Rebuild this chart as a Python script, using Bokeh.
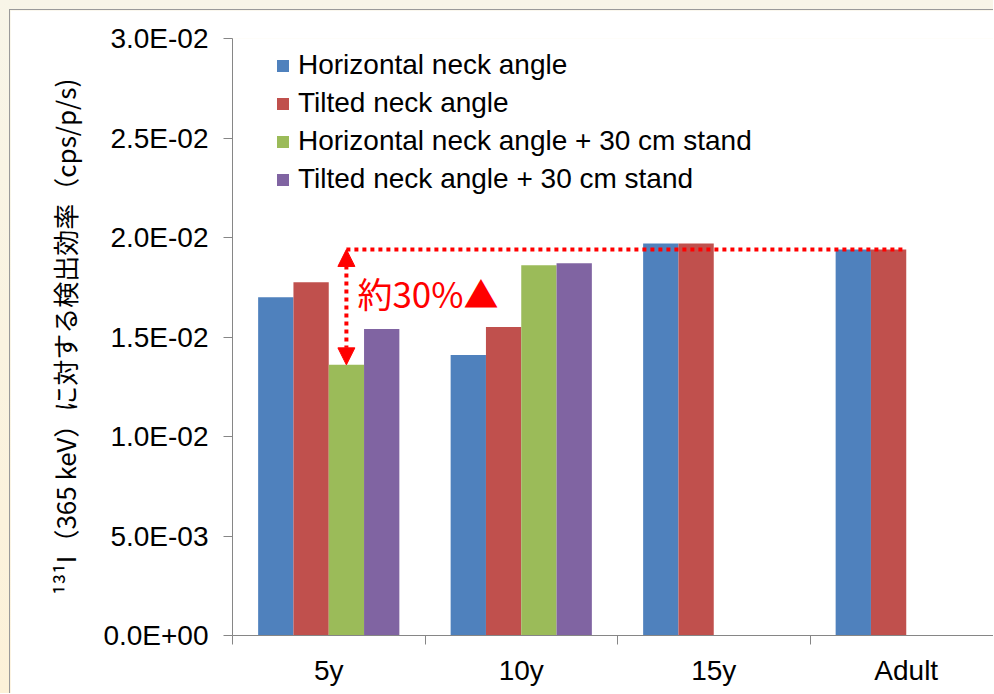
from bokeh.plotting import figure
from bokeh.models import (Range1d, FixedTicker, CustomJSTickFormatter, Legend,
                          LegendItem, Label, Arrow, NormalHead, Title)
from bokeh.layouts import column
from bokeh.embed import file_html
from bokeh.resources import INLINE

# ---- data -------------------------------------------------------------
CATEGORIES = ["5y", "10y", "15y", "Adult"]
SERIES = [
    "Horizontal neck angle",
    "Tilted neck angle",
    "Horizontal neck angle + 30 cm stand",
    "Tilted neck angle + 30 cm stand",
]
HORIZONTAL = [0.0170, 0.0141, 0.0197, 0.0194]
TILTED = [0.01775, 0.0155, 0.0197, 0.0194]
HORIZONTAL_STAND = [0.0136, 0.0186, None, None]
TILTED_STAND = [0.0154, 0.0187, None, None]
VALUES = [HORIZONTAL, TILTED, HORIZONTAL_STAND, TILTED_STAND]
COLORS = ["#4F81BD", "#C0504D", "#9BBB59", "#8064A2"]
Y_TICKS = [0.0, 0.005, 0.01, 0.015, 0.02, 0.025, 0.03]
Y_LABEL = "¹³¹I（365 keV）に対する検出効率（cps/p/s)"
NOTE = "約30%▲"

# ---- styling ----------------------------------------------------------
AXIS_GRAY = "#868686"
LATIN = "Liberation Sans"
CJK = "Noto Sans CJK JP"
BAR_W = 0.1834                       # in category units
OFFSETS = [(i - 1.5) * BAR_W for i in range(4)]

p = figure(
    width=984, height=684,
    x_range=Range1d(0, 762 / 192.5), y_range=Range1d(0, 0.03),
    output_backend="svg", toolbar_location=None,
    min_border_left=222, min_border_top=28, min_border_bottom=59,
    min_border_right=0,
)
p.outline_line_color = None
p.xgrid.visible = False
p.ygrid.visible = False
p.background_fill_color = "white"
p.border_fill_color = "white"

# ---- bars -------------------------------------------------------------
items = []
for name, vals, color, off in zip(SERIES, VALUES, COLORS, OFFSETS):
    xs = [k + 0.5 + off for k, v in enumerate(vals) if v is not None]
    tops = [v for v in vals if v is not None]
    r = p.vbar(x=xs, top=tops, bottom=0, width=BAR_W,
               fill_color=color, line_color=None)
    items.append(LegendItem(label=name, renderers=[r]))

legend = Legend(
    items=items, location=(43, 440),
    glyph_width=15, glyph_height=15, label_standoff=8, spacing=6,
    padding=0, margin=0, border_line_color=None, background_fill_alpha=0,
    label_text_font=LATIN, label_text_font_size="28px",
    label_text_color="black",
)
p.add_layout(legend)

# ---- 30 % annotation ---------------------------------------------------
x_arrow = 0 + 0.5 + OFFSETS[2]               # 5y, stand series
x_end = 3 + 0.5 + OFFSETS[1] + BAR_W / 2     # right edge of Adult group
level = HORIZONTAL[3]
low = HORIZONTAL_STAND[0]
p.segment(x0=[x_arrow], y0=[level], x1=[x_end], y1=[level],
          line_color="#FF0000", line_width=4, line_dash="4 4")
head = dict(size=17, fill_color="#FF0000", line_color="#FF0000", line_width=1)
p.add_layout(Arrow(x_start=x_arrow, y_start=level, x_end=x_arrow, y_end=low,
                   start=NormalHead(**head), end=NormalHead(**head),
                   line_color="#FF0000", line_width=4, line_dash="4 4"))
p.add_layout(Label(x=0.649, y=0.01724, text=NOTE, text_color="#FF0000",
                   text_font=CJK, text_font_size="35px",
                   text_baseline="middle", text_align="left"))

# ---- y-axis title as a side title left of the axis ----------------------
p.add_layout(Title(text=Y_LABEL, align="center", text_font=CJK,
                   text_font_size="26px", text_font_style="normal",
                   text_color="black", standoff=35, offset=13), "left")

# ---- axes -------------------------------------------------------------
ya = p.yaxis[0]
ya.ticker = FixedTicker(ticks=Y_TICKS, minor_ticks=[])
ya.formatter = CustomJSTickFormatter(code="""
    const s = tick.toExponential(1).toUpperCase();
    return s.replace(/E([+-])(\\d)$/, (m, sg, d) => "E" + sg + "0" + d);
""")
ya.axis_line_color = AXIS_GRAY
ya.major_tick_line_color = AXIS_GRAY
ya.major_tick_out = 9
ya.major_tick_in = 0
ya.major_label_standoff = 15
ya.major_label_text_font = LATIN
ya.major_label_text_font_size = "28px"
ya.major_label_text_color = "black"

xa = p.xaxis[0]
xa.ticker = FixedTicker(ticks=[k + 0.5 for k in range(len(CATEGORIES))],
                        minor_ticks=list(range(len(CATEGORIES) + 1)))
xa.formatter = CustomJSTickFormatter(args=dict(labels=CATEGORIES),
                                     code="return labels[Math.floor(tick)];")
xa.axis_line_color = AXIS_GRAY
xa.major_tick_out = 0
xa.major_tick_in = 0
xa.minor_tick_out = 9
xa.minor_tick_in = 0
xa.minor_tick_line_color = AXIS_GRAY
xa.major_label_standoff = 10
xa.major_label_text_font = LATIN
xa.major_label_text_font_size = "28px"
xa.major_label_text_color = "black"

p.styles = {"border-left": "1px solid #9a9a9a", "border-top": "1px solid #9a9a9a"}
root = column(p, styles={
    "background": "linear-gradient(#F8F5E8, #FCF1D8)",
    "padding-left": "9px", "padding-top": "9px",
})

open("out.html", "w").write(file_html(root, INLINE))
